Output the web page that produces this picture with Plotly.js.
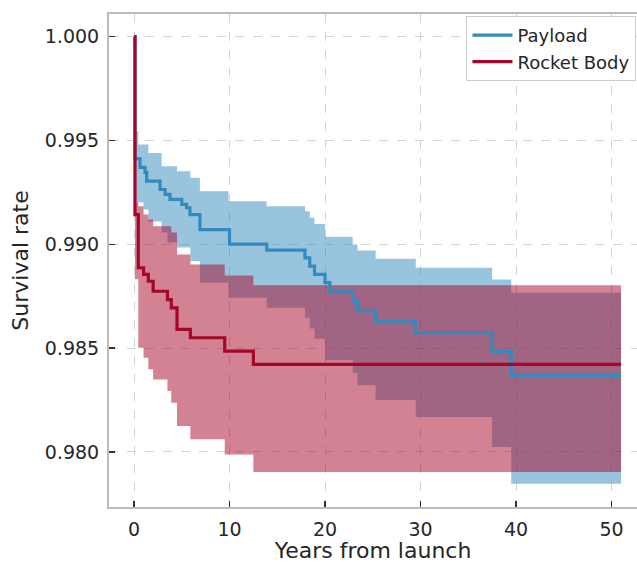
<!DOCTYPE html>
<html>
<head>
<meta charset="utf-8">
<script src="https://cdn.plot.ly/plotly-3.0.1.min.js"></script>
<style>html,body{margin:0;padding:0;background:#fff;}#chart{width:637px;height:563px;}</style>
</head>
<body>
<div id="chart"></div>
<script>
// Payload (Kaplan-Meier estimate)
const payloadTime = [0, 0.1, 0.63, 1.15, 1.33, 2.72, 3.25, 3.77, 5.0, 5.5, 5.86, 6.9, 10.0, 13.9, 17.9, 18.4, 18.9, 20.0, 20.5, 22.9, 23.4, 25.3, 29.5, 37.5, 39.5, 51];
const payloadSurv = [1.0, 0.99413, 0.99370, 0.99346, 0.99304, 0.99264, 0.99240, 0.99216, 0.99192, 0.99176, 0.99143, 0.99071, 0.99001, 0.98972, 0.98935, 0.98895, 0.98855, 0.98815, 0.98774, 0.98726, 0.98681, 0.98630, 0.98574, 0.98483, 0.98369, 0.98369];
// Payload confidence band
const payloadCiTime = [0, 0.1, 0.45, 1.0, 1.5, 2.9, 3.5, 4.5, 5.9, 6.9, 9.9, 13.9, 17.9, 18.4, 18.9, 20.0, 22.9, 23.4, 25.3, 29.5, 37.5, 39.5, 51];
const payloadUpper = [1.0, 0.99544, 0.99480, 0.99480, 0.99440, 0.99376, 0.99376, 0.99352, 0.99320, 0.99256, 0.99207, 0.99183, 0.99159, 0.99128, 0.99098, 0.99036, 0.98999, 0.98970, 0.98930, 0.98887, 0.98831, 0.98767, 0.98767];
const payloadLower = [1.0, 0.99201, 0.99201, 0.99167, 0.99110, 0.99057, 0.99009, 0.98985, 0.98919, 0.98815, 0.98743, 0.98694, 0.98646, 0.98595, 0.98545, 0.98442, 0.98382, 0.98321, 0.98250, 0.98168, 0.98024, 0.97847, 0.97847];

// Rocket Body
const rocketTime = [0, 0.1, 0.45, 1.0, 1.5, 2.0, 3.5, 3.9, 4.5, 5.9, 9.5, 12.5, 51];
const rocketSurv = [1.0, 0.99143, 0.98887, 0.98855, 0.98822, 0.98774, 0.98734, 0.98694, 0.98590, 0.98550, 0.98486, 0.98422, 0.98422];
const rocketUpper = [1.0, 0.99201, 0.99183, 0.99143, 0.99119, 0.99087, 0.99087, 0.99057, 0.98951, 0.98903, 0.98850, 0.98803, 0.98803];
const rocketLower = [1.0, 0.98832, 0.98502, 0.98454, 0.98398, 0.98349, 0.98293, 0.98237, 0.98125, 0.98061, 0.97988, 0.97904, 0.97904];

const seriesNames = ["Payload", "Rocket Body"];
const xTicks = [0, 10, 20, 30, 40, 50];
const yTicks = [0.980, 0.985, 0.990, 0.995, 1.000];

const BLUE = "#348ABD", RED = "#A60628";
const FONT = "DejaVu Sans, sans-serif";

const traces = [
  {x: payloadCiTime, y: payloadLower, mode: "lines", line: {shape: "hv", width: 0, color: BLUE}, showlegend: false, hoverinfo: "skip"},
  {x: payloadCiTime, y: payloadUpper, mode: "lines", line: {shape: "hv", width: 0, color: BLUE}, fill: "tonexty", fillcolor: "rgba(52,138,189,0.5)", showlegend: false, hoverinfo: "skip"},
  {x: rocketTime, y: rocketLower, mode: "lines", line: {shape: "hv", width: 0, color: RED}, showlegend: false, hoverinfo: "skip"},
  {x: rocketTime, y: rocketUpper, mode: "lines", line: {shape: "hv", width: 0, color: RED}, fill: "tonexty", fillcolor: "rgba(166,6,40,0.5)", showlegend: false, hoverinfo: "skip"},
  {x: payloadTime, y: payloadSurv, mode: "lines", name: seriesNames[0], line: {shape: "hv", width: 3.2, color: BLUE}},
  {x: rocketTime, y: rocketSurv, mode: "lines", name: seriesNames[1], line: {shape: "hv", width: 3.2, color: RED}}
];

const axisCommon = {
  showline: true, linecolor: "#bcbcbc", linewidth: 2,
  ticks: "inside", ticklen: 6, tickwidth: 1.5, tickcolor: "#333",
  showgrid: true, gridcolor: "#d3d3d3", griddash: "dash", gridwidth: 1,
  zeroline: false,
  tickfont: {family: FONT, size: 19, color: "#262626"}
};

const layout = {
  width: 637, height: 563,
  margin: {l: 109, r: 0, t: 14, b: 56},
  paper_bgcolor: "#fff", plot_bgcolor: "#fff",
  font: {family: FONT, color: "#262626"},
  xaxis: Object.assign({}, axisCommon, {
    range: [-2.62, 52.67], tickvals: xTicks, mirror: true,
    ticklabelstandoff: 4,
    title: {text: "Years from launch", font: {family: FONT, size: 22, color: "#262626"}, standoff: 7}
  }),
  yaxis: Object.assign({}, axisCommon, {
    range: [0.97735, 1.00109], tickvals: yTicks, tickformat: ".3f", mirror: false,
    ticklabelstandoff: 4,
    title: {text: "Survival rate", font: {family: FONT, size: 22, color: "#262626"}, standoff: 10}
  }),
  legend: {
    x: 0.999, xanchor: "right", y: 0.996, yanchor: "top",
    traceorder: "normal",
    itemwidth: 40,
    bgcolor: "#fff", bordercolor: "#cccccc", borderwidth: 1,
    font: {family: FONT, size: 18, color: "#262626"},
    tracegroupgap: 0
  },
  showlegend: true
};

Plotly.newPlot("chart", traces, layout, {displayModeBar: false, staticPlot: true});
</script>
</body>
</html>
